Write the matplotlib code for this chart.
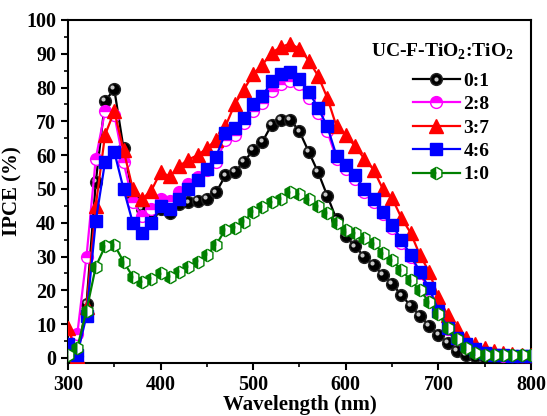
import matplotlib
matplotlib.use('Agg')
import matplotlib.pyplot as plt
from matplotlib.transforms import offset_copy
from matplotlib.legend_handler import HandlerTuple

# --- DATA
wavelength = [300, 310, 320, 330, 340, 350, 360, 370, 380, 390,
              400, 410, 420, 430, 440, 450, 460, 470, 480, 490,
              500, 510, 520, 530, 540, 550, 560, 570, 580, 590,
              600, 610, 620, 630, 640, 650, 660, 670, 680, 690,
              700, 710, 720, 730, 740, 750, 760, 770, 780, 790, 800]

ipce_01 = [1, 0.5, 16, 52, 76, 79.5, 62, 48, 44, 43,
           44, 43, 45.5, 46, 46.5, 47, 49, 54, 55, 58,
           61.5, 64, 69, 70.5, 70.5, 67, 61, 55, 48, 41,
           36, 33, 30, 27.5, 24.5, 22, 18.5, 15.5, 12.5, 9.5,
           6.8, 4.5, 2, 1, 0.5, 0.3, 0.3, 0.3, 0.3, 0.3, 0.3]

ipce_28 = [4, 7, 30, 59, 73, 72, 58, 46, 42, 44,
           47, 46.5, 49, 51.5, 53.5, 55.5, 58, 64.5, 66, 69.5,
           73, 75.5, 79, 81, 82, 81, 77, 72.5, 67, 59,
           56, 53, 49, 46, 42.5, 38.5, 34, 30, 25, 20,
           13.5, 8.5, 5.5, 3.5, 2, 1.2, 0.8, 0.6, 0.5, 0.5, 0.5]

ipce_37 = [9, 0.5, 15, 45, 66, 73, 61.5, 50, 47, 49.5,
           55, 53.7, 56.7, 58.7, 60, 62, 64.6, 68.5, 75, 79.4,
           84, 86.8, 90.3, 92, 93, 91.5, 88, 83.5, 77, 68.5,
           66, 62.6, 59, 55.7, 50, 47.3, 41.5, 37, 30.5, 25.5,
           18, 12.7, 9, 6, 4, 3, 2, 1.5, 1.2, 1, 1]

ipce_46 = [4, 1, 12.5, 40.5, 58, 61, 50, 40, 37, 40,
           45, 44, 47, 50, 52.7, 56, 59.6, 66.6, 68, 71,
           75, 77.4, 82, 84, 84.5, 82.5, 78.8, 74, 68.5, 59.8,
           57, 54, 50, 47, 43.3, 39.4, 35, 30.5, 25.5, 20.7,
           14, 9, 6, 4, 2.5, 1.5, 1, 0.8, 0.6, 0.5, 0.5]

ipce_10 = [1, 3, 14, 27, 33, 33.5, 28.5, 24, 22.5, 23.5,
           25, 24, 25.5, 27, 28.5, 30.5, 33.5, 38, 38.5, 40.3,
           43.3, 44.8, 46, 47, 49, 48.5, 47, 45, 43, 40,
           38, 37, 35.5, 34, 31, 29, 26, 23, 20, 16.6,
           13, 9, 5.5, 3, 1.5, 1, 1, 1, 1, 1, 1]

labels = ["0:1", "2:8", "3:7", "4:6", "1:0"]

# --- STYLE
plt.rcParams['font.family'] = 'Liberation Serif'
plt.rcParams['font.weight'] = 'bold'
plt.rcParams['mathtext.fontset'] = 'custom'
plt.rcParams['mathtext.rm'] = 'Liberation Serif:bold'
plt.rcParams['mathtext.bf'] = 'Liberation Serif:bold'

fig = plt.figure(figsize=(5.47, 4.16), dpi=100)
ax = fig.add_axes([0.1243, 0.1274, 0.8464, 0.8246])

lw = 1.6
# 0:1 black balls with a grey highlight
l01, = ax.plot(wavelength, ipce_01, '-o', color='black', lw=lw, ms=8.5,
               mfc='black', mec='#222222', zorder=2)
hl_tr = offset_copy(ax.transData, fig=fig, x=-1.3, y=1.3, units='points')
h01, = ax.plot(wavelength, ipce_01, 'o', ls='none', ms=3, mfc='#c8c8c8',
               mec='none', transform=hl_tr, zorder=2.1)

l28, = ax.plot(wavelength, ipce_28, '-o', color='magenta', lw=lw, ms=8.5,
               mfc='magenta', mfcalt='white', fillstyle='top', mec='magenta',
               mew=1.0, zorder=3)
l37, = ax.plot(wavelength, ipce_37, '-^', color='red', lw=lw, ms=9.5,
               mfc='red', mec='red', zorder=4)
l46, = ax.plot(wavelength, ipce_46, '-s', color='blue', lw=lw, ms=8,
               mfc='blue', mec='blue', zorder=5)
l10, = ax.plot(wavelength, ipce_10, '-h', color='green', lw=lw, ms=9,
               mfc='green', mfcalt='white', fillstyle='left', mec='green',
               mew=1.0, zorder=6)

ax.set_xlim(300, 800)
ax.set_ylim(-1.5, 100)
ax.set_xticks([300, 400, 500, 600, 700, 800])
ax.set_xticks([350, 450, 550, 650, 750], minor=True)
ax.set_yticks(range(0, 101, 10))
ax.set_yticks(range(5, 100, 10), minor=True)
ax.tick_params(which='major', direction='out', length=5, width=1.5,
               labelsize=14.5, top=False, right=False)
ax.tick_params(which='minor', direction='out', length=3, width=1.2,
               top=False, right=False)
for s in ax.spines.values():
    s.set_linewidth(1.5)

ax.set_xlabel("Wavelength (nm)", fontsize=15, fontweight='bold', labelpad=0)
ax.set_ylabel("IPCE (%)", fontsize=15, fontweight='bold', labelpad=3)

# legend title as its own text, entries below it
ax.text(0.808, 0.907, r"UC-F-TiO$_\mathbf{2}$:TiO$_\mathbf{2}$",
        transform=ax.transAxes, ha='center', va='center',
        fontsize=14, fontweight='bold')
leg = ax.legend([(l01, h01), l28, l37, l46, l10], labels,
                handler_map={tuple: HandlerTuple(ndivide=1, pad=0)},
                loc='upper left', bbox_to_anchor=(0.745, 0.848), frameon=False,
                fontsize=14, handlelength=2.4, borderpad=0,
                handletextpad=0.2, labelspacing=0.3, borderaxespad=0)
for t in leg.get_texts():
    t.set_fontweight('bold')

fig.savefig("out.png", dpi=100)
